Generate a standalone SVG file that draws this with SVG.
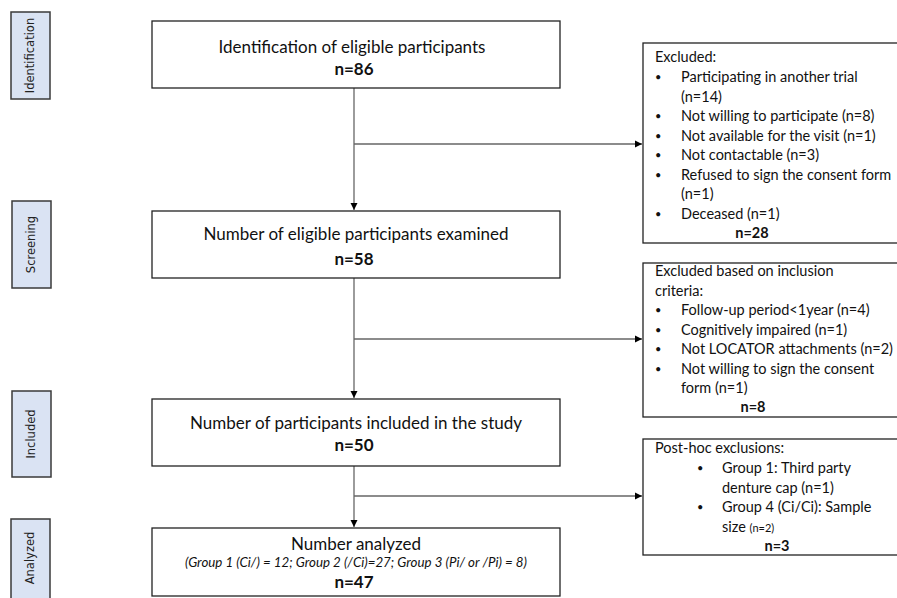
<svg xmlns="http://www.w3.org/2000/svg" width="897" height="598" viewBox="0 0 897 598">
<defs>
<marker id="ah" markerWidth="8" markerHeight="8" refX="7" refY="4" orient="auto" markerUnits="userSpaceOnUse">
<path d="M0,0.5 L7,4 L0,7.5 Z" fill="#000"/>
</marker>
<style>
.stage{fill:#dae3f3;stroke:#3a3a3a;stroke-width:1.5}
.box{fill:#fff;stroke:#222;stroke-width:1.3}
.lbl{font-family:"DejaVu Sans","Liberation Sans",sans-serif;font-size:11.5px;fill:#222}
.t{font-family:Lato,"Liberation Sans",sans-serif;fill:#111}
.main{font-size:17px}
.b{font-weight:bold}
.ex{font-size:14.5px}
.bu{font-size:11px}
.conn{stroke:#666;stroke-width:1.3;fill:none}
</style>
</defs>
<g id="stage-identification"><rect class="stage" x="11" y="12" width="39" height="87"/><text class="lbl" transform="translate(34,55.5) rotate(-90)" text-anchor="middle">Identification</text></g>
<g id="stage-screening"><rect class="stage" x="12" y="201" width="39" height="87"/><text class="lbl" transform="translate(35,244.5) rotate(-90)" text-anchor="middle">Screening</text></g>
<g id="stage-included"><rect class="stage" x="12" y="391" width="39" height="86"/><text class="lbl" transform="translate(35,434) rotate(-90)" text-anchor="middle">Included</text></g>
<g id="stage-analyzed"><rect class="stage" x="11" y="519" width="39" height="90"/><text class="lbl" transform="translate(34,558) rotate(-90)" text-anchor="middle">Analyzed</text></g>

<g id="connectors">
<line class="conn" x1="354" y1="88" x2="354" y2="210" marker-end="url(#ah)"/>
<line class="conn" x1="354" y1="144" x2="642" y2="144" marker-end="url(#ah)"/>
<line class="conn" x1="354" y1="278" x2="354" y2="398" marker-end="url(#ah)"/>
<line class="conn" x1="354" y1="339" x2="642" y2="339" marker-end="url(#ah)"/>
<line class="conn" x1="354" y1="466" x2="354" y2="527" marker-end="url(#ah)"/>
<line class="conn" x1="354" y1="496" x2="642" y2="496" marker-end="url(#ah)"/>
</g>

<g id="identification"><rect class="box" x="152" y="21" width="408" height="67"/>
<text class="t main" x="352" y="53" text-anchor="middle">Identification of eligible participants</text>
<text class="t main b" x="354" y="75" text-anchor="middle">n=86</text></g>

<g id="screening"><rect class="box" x="152" y="211" width="408" height="67"/>
<text class="t main" x="356" y="240" text-anchor="middle">Number of eligible participants examined</text>
<text class="t main b" x="354" y="265" text-anchor="middle">n=58</text></g>

<g id="included"><rect class="box" x="152" y="399" width="408" height="67"/>
<text class="t main" x="356" y="429" text-anchor="middle">Number of participants included in the study</text>
<text class="t main b" x="354" y="451" text-anchor="middle">n=50</text></g>

<g id="analyzed"><rect class="box" x="152" y="528" width="408" height="68"/>
<text class="t main" x="356" y="550" text-anchor="middle">Number analyzed</text>
<text class="t" font-size="13.3" font-style="italic" x="356" y="567" text-anchor="middle">(Group 1 (Ci/) = 12; Group 2 (/Ci)=27; Group 3 (Pi/ or /Pi) = 8)</text>
<text class="t main b" x="354" y="588" text-anchor="middle">n=47</text></g>

<g id="excluded1"><rect class="box" x="643" y="43" width="260" height="200"/>
<g class="t ex">
<text x="655" y="62">Excluded:</text>
<text class="bu" x="655" y="81">•</text><text x="681" y="82">Participating in another trial</text>
<text x="681" y="102">(n=14)</text>
<text class="bu" x="655" y="120">•</text><text x="681" y="121">Not willing to participate (n=8)</text>
<text class="bu" x="655" y="140">•</text><text x="681" y="141">Not available for the visit (n=1)</text>
<text class="bu" x="655" y="159">•</text><text x="681" y="160">Not contactable (n=3)</text>
<text class="bu" x="655" y="179">•</text><text x="681" y="180">Refused to sign the consent form</text>
<text x="681" y="199">(n=1)</text>
<text class="bu" x="655" y="218">•</text><text x="681" y="219">Deceased (n=1)</text>
<text class="b" x="752" y="238" text-anchor="middle">n=28</text>
</g></g>

<g id="excluded2"><rect class="box" x="643" y="263" width="260" height="154"/>
<g class="t ex">
<text x="655" y="276">Excluded based on inclusion</text>
<text x="655" y="296">criteria:</text>
<text class="bu" x="655" y="314">•</text><text x="681" y="315">Follow-up period&lt;1year (n=4)</text>
<text class="bu" x="655" y="334">•</text><text x="681" y="335">Cognitively impaired (n=1)</text>
<text class="bu" x="655" y="353">•</text><text x="681" y="354">Not LOCATOR attachments (n=2)</text>
<text class="bu" x="655" y="373">•</text><text x="681" y="374">Not willing to sign the consent</text>
<text x="681" y="393">form (n=1)</text>
<text class="b" x="753" y="412" text-anchor="middle">n=8</text>
</g></g>

<g id="excluded3"><rect class="box" x="643" y="439" width="260" height="116"/>
<g class="t ex">
<text x="655" y="453">Post-hoc exclusions:</text>
<text class="bu" x="697" y="472">•</text><text x="722" y="473">Group 1: Third party</text>
<text x="722" y="493">denture cap (n=1)</text>
<text class="bu" x="697" y="511">•</text><text x="722" y="512">Group 4 (Ci/Ci): Sample</text>
<text x="722" y="532">size <tspan font-size="11">(n=2)</tspan></text>
<text class="b" x="777" y="551" text-anchor="middle">n=3</text>
</g></g>
</svg>
